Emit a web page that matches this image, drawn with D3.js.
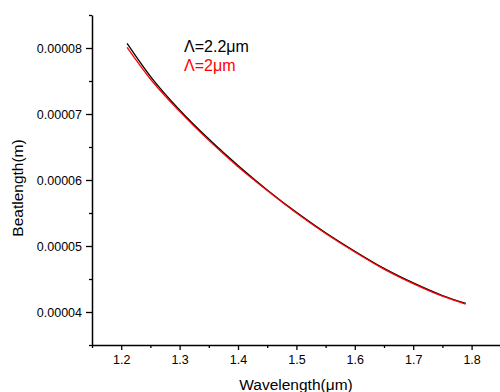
<!DOCTYPE html>
<html>
<head>
<meta charset="utf-8">
<script src="https://cdn.jsdelivr.net/npm/d3@7"></script>
<style>
  body { margin: 0; background: #fff; }
  text { font-family: Arial, "Liberation Sans", sans-serif; }
</style>
</head>
<body>
<script>
let w = 500;
let h = 392;

// wavelength in um
const wavelength = [1.21, 1.25, 1.30, 1.35, 1.40, 1.45, 1.50, 1.55, 1.60, 1.65, 1.70, 1.75, 1.79];
// beat length in m, Lambda = 2.2um
const beat22 = [8.07e-5, 7.57e-5, 7.06e-5, 6.62e-5, 6.22e-5, 5.85e-5, 5.51e-5, 5.20e-5, 4.92e-5, 4.66e-5, 4.44e-5, 4.25e-5, 4.13e-5];
// beat length in m, Lambda = 2um
const beat2 = [8.01e-5, 7.53e-5, 7.04e-5, 6.60e-5, 6.20e-5, 5.84e-5, 5.50e-5, 5.19e-5, 4.91e-5, 4.65e-5, 4.43e-5, 4.24e-5, 4.12e-5];

const xTicks = [1.2, 1.3, 1.4, 1.5, 1.6, 1.7, 1.8];
const yTicks = [0.00004, 0.00005, 0.00006, 0.00007, 0.00008];
const legendLabels = ["\u039B=2.2\u03BCm", "\u039B=2\u03BCm"];

let svg = d3.select("body").append("svg").attr("width", w).attr("height", h);

let x = d3.scaleLinear().domain([1.15, 1.85]).range([92, 500.8]);
let y = d3.scaleLinear().domain([0.000035, 0.000085]).range([345, 15]);

//minor ticks
let xMinor = d3.range(1.15, 1.86, 0.1).map(function (d) { return +d.toFixed(2); });
let yMinor = d3.range(0.000035, 0.0000851, 0.00001).map(function (d) { return +d.toFixed(6); });

svg.append("g")
  .attr("transform", "translate(0,345)")
  .call(d3.axisBottom(x).tickValues(xMinor).tickSize(3).tickFormat(""))
  .call(function (g) { g.select(".domain").remove(); });

svg.append("g")
  .attr("transform", "translate(92,0)")
  .call(d3.axisLeft(y).tickValues(yMinor).tickSize(3).tickFormat(""))
  .call(function (g) { g.select(".domain").remove(); });

//major axes
let xAxis = svg.append("g")
  .attr("transform", "translate(0,345)")
  .call(d3.axisBottom(x).tickValues(xTicks).tickSize(5).tickSizeOuter(0).tickPadding(5).tickFormat(d3.format(".1f")));
xAxis.selectAll("text").attr("font-size", "12.5").attr("fill", "#000").attr("font-family", "Arial, 'Liberation Sans', sans-serif");

let yAxis = svg.append("g")
  .attr("transform", "translate(92,0)")
  .call(d3.axisLeft(y).tickValues(yTicks).tickSize(6).tickSizeOuter(0).tickPadding(4).tickFormat(d3.format(".5f")));
yAxis.selectAll("text").attr("font-size", "12.5").attr("fill", "#000").attr("dy", "0.35em").attr("font-family", "Arial, 'Liberation Sans', sans-serif");

svg.selectAll(".domain").attr("stroke", "#000").attr("stroke-width", 1.5);
svg.selectAll(".tick line").attr("stroke", "#000").attr("stroke-width", 1.3);

//lines
let line = d3.line()
  .x(function (d) { return x(d[0]); })
  .y(function (d) { return y(d[1]); })
  .curve(d3.curveMonotoneX);

svg.append("path")
  .datum(d3.zip(wavelength, beat22))
  .attr("d", line)
  .attr("fill", "none")
  .attr("stroke", "#000")
  .attr("stroke-width", 1.3);

svg.append("path")
  .datum(d3.zip(wavelength, beat2))
  .attr("d", line)
  .attr("fill", "none")
  .attr("stroke", "#ff0000")
  .attr("stroke-width", 1.3);

//legend
svg.selectAll(".legend")
  .data(legendLabels)
  .enter()
  .append("text")
  .attr("class", "legend")
  .attr("x", 184)
  .attr("y", function (d, i) { return 52 + i * 19; })
  .attr("font-size", "16")
  .attr("fill", function (d, i) { return i === 0 ? "#000" : "#ff0000"; })
  .text(function (d) { return d; });

//axis titles
svg.append("text")
  .attr("transform", "translate(23,188) rotate(-90)")
  .attr("text-anchor", "middle")
  .attr("font-size", "15.5")
  .text("Beatlength(m)");

svg.append("text")
  .attr("x", 296)
  .attr("y", 390)
  .attr("text-anchor", "middle")
  .attr("font-size", "15.5")
  .text("Wavelength(\u03BCm)");
</script>
</body>
</html>
